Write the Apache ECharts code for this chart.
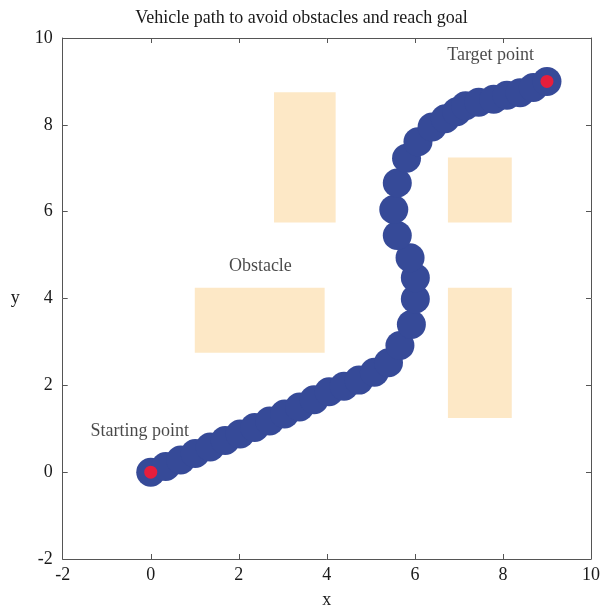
<!DOCTYPE html>
<html>
<head>
<meta charset="utf-8">
<script src="https://cdn.jsdelivr.net/npm/echarts@6/dist/echarts.min.js"></script>
<style>html,body{margin:0;padding:0;background:#fff;overflow:hidden}#c{width:603px;height:614px}</style>
</head>
<body>
<div id="c"></div>
<script>
const pathX = [0, 0.34, 0.68, 1.01, 1.35, 1.69, 2.03, 2.36, 2.7, 3.04, 3.38, 3.71, 4.05, 4.39, 4.73, 5.08, 5.4, 5.66, 5.92, 6.01, 6.01, 5.89, 5.6, 5.52, 5.6, 5.81, 6.07, 6.39, 6.69, 6.95, 7.15, 7.45, 7.79, 8.09, 8.39, 8.69, 9];
const pathY = [0, 0.13, 0.28, 0.43, 0.58, 0.73, 0.88, 1.03, 1.18, 1.34, 1.5, 1.67, 1.85, 1.98, 2.12, 2.3, 2.52, 2.92, 3.4, 3.99, 4.48, 4.94, 5.45, 6.05, 6.66, 7.23, 7.61, 7.95, 8.14, 8.3, 8.44, 8.52, 8.59, 8.68, 8.74, 8.86, 9];
const endpoints = [[0, 0], [9, 9]];
// obstacles: [x1, y1, x2, y2]
const obstacles = [
  [2.8, 5.75, 4.2, 8.75],
  [1.0, 2.75, 3.95, 4.25],
  [6.75, 5.75, 8.2, 7.25],
  [6.75, 1.25, 8.2, 4.25]
];
const annotations = [
  {name: 'Target point', value: [7.72, 9.61]},
  {name: 'Obstacle', value: [2.49, 4.75]},
  {name: 'Starting point', value: [-0.25, 0.95]}
];
const xTicks = [-2, 0, 2, 4, 6, 8, 10];
const yTicks = [-2, 0, 2, 4, 6, 8, 10];

const FONT = "'Liberation Serif', 'DejaVu Serif', serif";
const TXT = '#1a1a1a';
const chart = echarts.init(document.getElementById('c'), null, {renderer: 'canvas', width: 603, height: 614});
const lineStyle = {color: '#555', width: 1};
const baseAxis = {
  min: xTicks[0], max: xTicks[xTicks.length - 1], interval: 2,
  axisLine: {show: true, onZero: false, lineStyle},
  axisTick: {show: true, inside: true, length: 5, lineStyle},
  splitLine: {show: false}
};
chart.setOption({
  animation: false,
  title: {
    text: 'Vehicle path to avoid obstacles and reach goal',
    left: 'center', top: 4,
    textStyle: {fontFamily: FONT, fontWeight: 'normal', fontSize: 18, color: TXT}
  },
  grid: {left: 62.7, top: 38, width: 530, height: 528},
  xAxis: [
    Object.assign({}, baseAxis, {
      type: 'value', position: 'bottom',
      name: 'x', nameLocation: 'middle', nameGap: 32,
      nameTextStyle: {fontFamily: FONT, fontSize: 18, color: TXT},
      axisLabel: {margin: 7, fontFamily: FONT, fontSize: 18, color: TXT}
    }),
    Object.assign({}, baseAxis, {
      type: 'value', position: 'top',
      axisLabel: {show: false}
    })
  ],
  yAxis: [
    Object.assign({}, baseAxis, {
      type: 'value', position: 'left', min: yTicks[0], max: yTicks[yTicks.length - 1],
      name: 'y', nameLocation: 'middle', nameGap: 43, nameRotate: 0,
      nameTextStyle: {fontFamily: FONT, fontSize: 18, color: TXT},
      axisLabel: {margin: 10, fontFamily: FONT, fontSize: 18, color: TXT}
    }),
    Object.assign({}, baseAxis, {
      type: 'value', position: 'right', min: yTicks[0], max: yTicks[yTicks.length - 1],
      axisLabel: {show: false}
    })
  ],
  series: [
    {
      type: 'scatter', xAxisIndex: 0, yAxisIndex: 0,
      data: [], silent: true,
      markArea: {
        silent: true,
        itemStyle: {color: '#FDE8C6', opacity: 1},
        data: obstacles.map(o => [{coord: [o[0], o[1]]}, {coord: [o[2], o[3]]}])
      }
    },
    {
      type: 'scatter', xAxisIndex: 0, yAxisIndex: 0,
      symbol: 'circle', symbolSize: 29,
      itemStyle: {color: '#364A98', opacity: 1},
      data: pathX.map((x, i) => [x, pathY[i]]),
      z: 3
    },
    {
      type: 'scatter', xAxisIndex: 0, yAxisIndex: 0,
      symbol: 'circle', symbolSize: 13,
      itemStyle: {color: '#E61E3C', opacity: 1},
      data: endpoints,
      z: 4
    },
    {
      type: 'scatter', xAxisIndex: 0, yAxisIndex: 0,
      symbolSize: 0,
      data: annotations,
      label: {
        show: true, position: 'inside', formatter: p => p.name,
        fontFamily: FONT, fontSize: 18, color: TXT
      },
      z: 5
    }
  ]
});
</script>
</body>
</html>
